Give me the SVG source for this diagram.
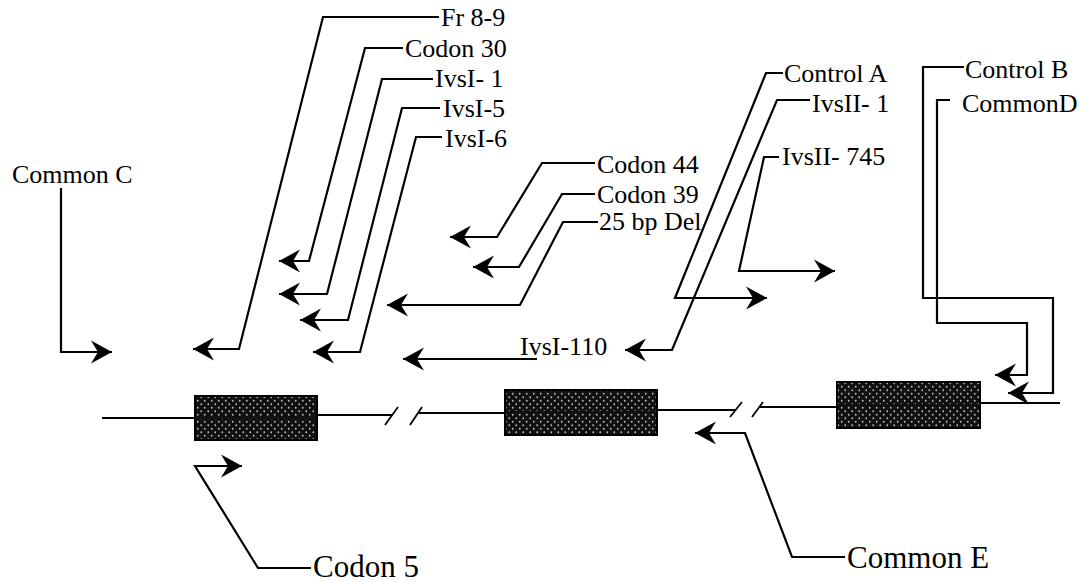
<svg xmlns="http://www.w3.org/2000/svg" width="1090" height="582" viewBox="0 0 1090 582">
<style>
  .lbl { font-family: "Liberation Serif", "Times New Roman", serif; font-size: 26px; fill: #000; }
  .big { font-size: 31px; }
  .conn { fill: none; stroke: #000; stroke-width: 2.2; stroke-linejoin: miter; }
  .gene { fill: none; stroke: #000; stroke-width: 1.8; }
  .exon { fill: url(#stipple); stroke: #000; stroke-width: 2; }
</style>
<defs>
  <pattern id="stipple" width="7" height="7" patternUnits="userSpaceOnUse">
    <rect width="7" height="7" fill="#111"/>
    <circle cx="1.75" cy="1.75" r="0.9" fill="#bbb"/>
    <circle cx="5.25" cy="5.25" r="0.9" fill="#bbb"/>
  </pattern>
  <marker id="arr" markerWidth="24" markerHeight="26" refX="22" refY="13" orient="auto" markerUnits="userSpaceOnUse">
    <path d="M22,13 L1,1.5 L8,13 L1,24.5 Z" fill="#000"/>
  </marker>
</defs>

<g id="gene">
  <path class="gene" d="M102,418 H195 M317,415 H392 M419,413 H505 M657,410 H735 M759,407 H837 M980,403 H1060"/>
  <path class="gene" d="M385,425 L398,407 M410,425 L422,407 M730,417 L742,402 M752,417 L763,402"/>
  <g id="exon1"><rect class="exon" x="195" y="396" width="122" height="44"/><line x1="195" y1="418" x2="317" y2="418" stroke="#111" stroke-width="2"/></g>
  <g id="exon2"><rect class="exon" x="505" y="390" width="152" height="45"/><line x1="505" y1="412" x2="657" y2="412" stroke="#111" stroke-width="2"/></g>
  <g id="exon3"><rect class="exon" x="837" y="382" width="143" height="46"/><line x1="837" y1="405" x2="980" y2="405" stroke="#111" stroke-width="2"/></g>
</g>

<g id="connectors">
  <path class="conn" marker-end="url(#arr)" d="M61,188 V352 H112"/>
  <path class="conn" marker-end="url(#arr)" d="M439,17 H323 L239,349 H193"/>
  <path class="conn" marker-end="url(#arr)" d="M403,48 H365 L309,261 H279"/>
  <path class="conn" marker-end="url(#arr)" d="M433,79 H382 L327,294 H279"/>
  <path class="conn" marker-end="url(#arr)" d="M440,108 H402 L348,320 H300"/>
  <path class="conn" marker-end="url(#arr)" d="M442,137 H416 L360,352 H313"/>
  <path class="conn" marker-end="url(#arr)" d="M595,163 H542 L497,237 H450"/>
  <path class="conn" marker-end="url(#arr)" d="M595,194 H562 L519,267 H473"/>
  <path class="conn" marker-end="url(#arr)" d="M598,222 H563 L520,305 H387"/>
  <path class="conn" marker-end="url(#arr)" d="M537,359 H403"/>
  <path class="conn" marker-end="url(#arr)" d="M783,73 H766 L675,298 H767"/>
  <path class="conn" marker-end="url(#arr)" d="M810,100 H777 L672,350 H625"/>
  <path class="conn" marker-end="url(#arr)" d="M779,157 H764 L739,271 H835"/>
  <path class="conn" marker-end="url(#arr)" d="M964,67 H923 V298 H1053 V393 H1008"/>
  <path class="conn" marker-end="url(#arr)" d="M950,100 H937 V323 H1027 V375 H995"/>
  <path class="conn" marker-end="url(#arr)" d="M311,568 H258 L195,466 H242"/>
  <path class="conn" marker-end="url(#arr)" d="M845,557 H792 L745,433 H695"/>
</g>

<g id="n-commonC"><text class="lbl" x="12" y="183">Common C</text></g>
<g id="n-fr89"><text class="lbl" x="441" y="26">Fr 8-9</text></g>
<g id="n-codon30"><text class="lbl" x="405" y="57">Codon 30</text></g>
<g id="n-ivsi1"><text class="lbl" x="435" y="87">IvsI- 1</text></g>
<g id="n-ivsi5"><text class="lbl" x="443" y="117">IvsI-5</text></g>
<g id="n-ivsi6"><text class="lbl" x="445" y="147">IvsI-6</text></g>
<g id="n-codon44"><text class="lbl" x="597" y="173">Codon 44</text></g>
<g id="n-codon39"><text class="lbl" x="597" y="203">Codon 39</text></g>
<g id="n-25bp"><text class="lbl" x="599" y="230">25 bp Del</text></g>
<g id="n-ivsi110"><text class="lbl" x="520" y="355">IvsI-110</text></g>
<g id="n-controlA"><text class="lbl" x="784" y="82">Control A</text></g>
<g id="n-ivsii1"><text class="lbl" x="812" y="112">IvsII- 1</text></g>
<g id="n-ivsii745"><text class="lbl" x="782" y="165">IvsII- 745</text></g>
<g id="n-controlB"><text class="lbl" x="965" y="78">Control B</text></g>
<g id="n-commonD"><text class="lbl" x="962" y="112">CommonD</text></g>
<g id="n-codon5"><text class="lbl big" x="313" y="577">Codon 5</text></g>
<g id="n-commonE"><text class="lbl big" x="847" y="568">Common E</text></g>
</svg>
